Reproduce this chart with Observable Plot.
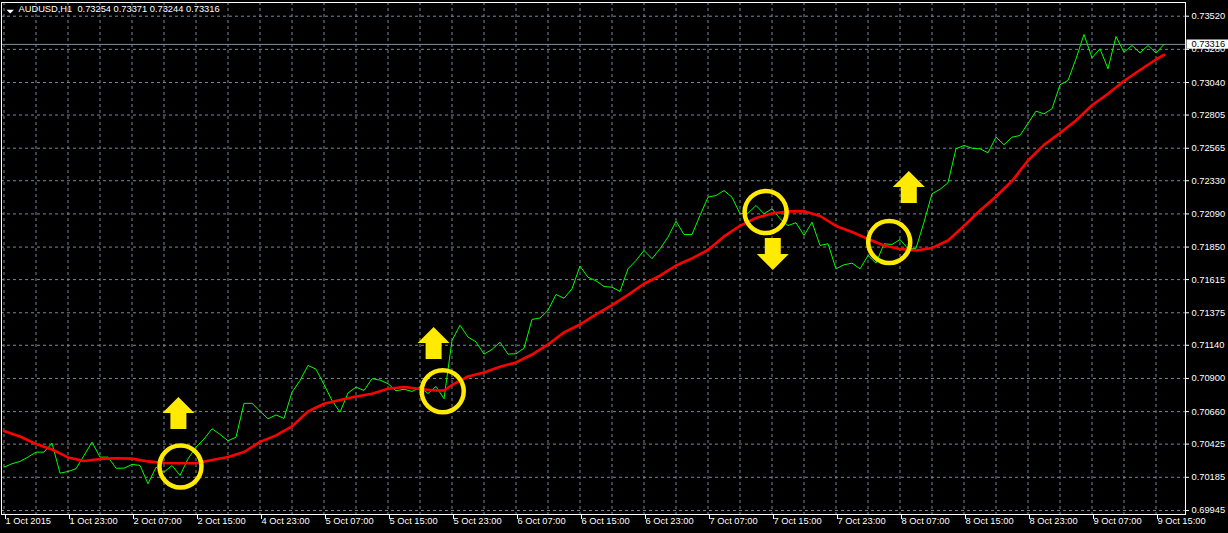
<!DOCTYPE html>
<html><head><meta charset="utf-8">
<script src="https://cdn.jsdelivr.net/npm/d3@7"></script>
<script src="https://cdn.jsdelivr.net/npm/@observablehq/plot@0.6"></script>
<style>
html,body{margin:0;padding:0;background:#000;}
#chart{width:1228px;height:533px;overflow:hidden}
svg{display:block}
</style></head><body><div id="chart"></div>
<script>
// ---- data ----
const symbolName = "AUDUSD,H1";
const ohlc = ["0.73254", "0.73371", "0.73244", "0.73316"];
const currentPrice = 0.73316;

// hourly closes (green line), bar 0 = 1 Oct 2015
const closes = [
  0.70258,0.70283,0.70300,0.70331,0.70367,0.70367,0.70432,0.70215,0.70227,0.70247,
  0.70343,0.70439,0.70331,0.70331,0.70251,0.70251,0.70278,0.70271,0.70138,0.70258,
  0.70222,0.70271,0.70198,0.70319,0.70403,0.70462,0.70536,0.70495,0.70449,0.70475,
  0.70720,0.70720,0.70663,0.70608,0.70636,0.70611,0.70801,0.70885,0.70994,0.70967,
  0.70856,0.70741,0.70656,0.70795,0.70837,0.70813,0.70898,0.70888,0.70862,0.70811,
  0.70822,0.70806,0.70837,0.70791,0.70842,0.70753,0.71175,0.71285,0.71199,0.71165,
  0.71076,0.71110,0.71162,0.71076,0.71079,0.71118,0.71327,0.71337,0.71392,0.71507,
  0.71480,0.71549,0.71713,0.71632,0.71606,0.71565,0.71560,0.71529,0.71693,0.71753,
  0.71826,0.71766,0.71838,0.71922,0.72037,0.71941,0.71941,0.72079,0.72211,0.72223,
  0.72259,0.72211,0.72091,0.72095,0.72151,0.72091,0.72127,0.72055,0.72006,0.72026,
  0.71934,0.72030,0.71862,0.71874,0.71693,0.71722,0.71734,0.71693,0.71789,0.71734,
  0.71874,0.71869,0.71905,0.71838,0.71841,0.72030,0.72236,0.72268,0.72315,0.72561,
  0.72585,0.72565,0.72561,0.72532,0.72645,0.72590,0.72645,0.72657,0.72746,0.72833,
  0.72814,0.72850,0.73024,0.73055,0.73212,0.73388,0.73219,0.73284,0.73140,0.73373,
  0.73260,0.73308,0.73255,0.73308,0.73254,0.73316
];

// moving average (red line)
const maIdx = [0,2,4,6,8,10,12,14,16,18,20,22,24,26,28,30,32,34,36,38,40,42,44,46,48,50,52,54,55,56,
  58,60,62,64,66,68,70,72,74,76,78,80,82,84,86,88,90,92,94,96,98,100,102,104,106,108,110,112,114,116,
  118,120,122,124,126,128,130,132,134,136,138,140,142,144,145];
const maVals = [0.70520,0.70480,0.70426,0.70386,0.70329,0.70303,0.70318,0.70323,0.70320,0.70300,
  0.70289,0.70287,0.70287,0.70310,0.70332,0.70368,0.70441,0.70488,0.70553,0.70661,
  0.70717,0.70744,0.70770,0.70789,0.70825,0.70838,0.70824,0.70813,0.70813,0.70853,
  0.70914,0.70943,0.70985,0.71016,0.71073,0.71146,0.71233,0.71290,0.71363,0.71431,
  0.71504,0.71585,0.71643,0.71717,0.71768,0.71829,0.71927,0.72004,0.72061,0.72093,
  0.72108,0.72110,0.72075,0.72003,0.71959,0.71909,0.71862,0.71836,0.71826,0.71844,
  0.71898,0.72003,0.72115,0.72216,0.72328,0.72476,0.72589,0.72675,0.72766,0.72876,
  0.72959,0.73051,0.73131,0.73207,0.73241];

const xTickIdx = [0,8,16,24,32,40,48,56,64,72,80,88,96,104,112,120,128,136,144];
const xTickLabels = ["1 Oct 2015","1 Oct 23:00","2 Oct 07:00","2 Oct 15:00","4 Oct 23:00",
  "5 Oct 07:00","5 Oct 15:00","5 Oct 23:00","6 Oct 07:00","6 Oct 15:00","6 Oct 23:00",
  "7 Oct 07:00","7 Oct 15:00","7 Oct 23:00","8 Oct 07:00","8 Oct 15:00","8 Oct 23:00",
  "9 Oct 07:00","9 Oct 15:00"];
const xGridIdx = [0,4,8,12,16,20,24,28,32,36,40,44,48,52,56,60,64,68,72,76,80,84,88,92,96,100,
  104,108,112,116,120,124,128,132,136,140,144];
const yTickVals = [0.69945,0.70185,0.70425,0.70660,0.70900,0.71140,0.71375,0.71615,0.71850,
  0.72090,0.72330,0.72565,0.72805,0.73040,0.73280,0.73520];
const yTickLabels = ["0.69945","0.70185","0.70425","0.70660","0.70900","0.71140","0.71375",
  "0.71615","0.71850","0.72090","0.72330","0.72565","0.72805","0.73040","0.73280","0.73520"];

// annotations (bar index, price)
const circleIdx = [22.06, 54.84, 95.2, 110.65];
const circlePrice = [0.70263, 0.70807, 0.72103, 0.71886];
const arrowIdx = [21.8, 53.7, 96.1, 113.1];
const arrowPrice = [0.70650, 0.71157, 0.71800, 0.72285];
const arrowDir = ["up", "up", "down", "up"];

// ---- build tables ----
const bars = closes.map((c, i) => ({i, c}));
const ma = maIdx.map((i, k) => ({i, v: maVals[k]}));
const circles = circleIdx.map((i, k) => ({i, p: circlePrice[k]}));
const arrows = arrowIdx.map((i, k) => ({i, p: arrowPrice[k], dir: arrowDir[k]}));

const upArrow = {draw(ctx) {
  ctx.moveTo(0, -16); ctx.lineTo(16, 0); ctx.lineTo(8, 0); ctx.lineTo(8, 16);
  ctx.lineTo(-8, 16); ctx.lineTo(-8, 0); ctx.lineTo(-16, 0); ctx.closePath();
}};
const downArrow = {draw(ctx) {
  ctx.moveTo(0, 16); ctx.lineTo(16, 0); ctx.lineTo(8, 0); ctx.lineTo(8, -16);
  ctx.lineTo(-8, -16); ctx.lineTo(-8, 0); ctx.lineTo(-16, 0); ctx.closePath();
}};
const priceBox = {draw(ctx) { ctx.rect(1, -5, 44, 9.4); }};
const menuTri = {draw(ctx) { ctx.moveTo(-3.7, -1.8); ctx.lineTo(3.7, -1.8); ctx.lineTo(0, 2); ctx.closePath(); }};

const grid = "#778899";
const yellow = "#ffea00";

const chart = Plot.plot({
  width: 1228, height: 533,
  marginLeft: 1, marginRight: 43, marginTop: 2, marginBottom: 19,
  style: {background: "#000", color: "#fff", fontFamily: "'Liberation Sans', Arial, sans-serif", fontSize: "9.3px"},
  x: {domain: [-0.3125, 147.6875], axis: null, label: null},
  y: {domain: [0.69916, 0.73619], axis: null, label: null},
  marks: [
    Plot.ruleY(yTickVals, {stroke: grid, strokeDasharray: "3,3"}),
    Plot.ruleX(xGridIdx, {stroke: grid, strokeDasharray: "3,3"}),
    Plot.ruleY([currentPrice], {stroke: "#8090a0"}),
    Plot.line(bars, {x: "i", y: "c", stroke: "#00ff00", strokeWidth: 1}),
    Plot.line(ma, {x: "i", y: "v", stroke: "#ff0000", strokeWidth: 2.6}),
    Plot.dot(circles, {x: "i", y: "p", r: 21, stroke: yellow, strokeWidth: 4.5, fill: "none"}),
    Plot.dot(arrows, {filter: d => d.dir === "up", x: "i", y: "p", symbol: upArrow, fill: yellow, stroke: "none"}),
    Plot.dot(arrows, {filter: d => d.dir === "down", x: "i", y: "p", symbol: downArrow, fill: yellow, stroke: "none"}),
    Plot.frame({stroke: "#fff"}),
    Plot.axisX(xTickIdx, {anchor: "bottom", label: null, tickFormat: d => xTickLabels[xTickIdx.indexOf(d)],
      textAnchor: "start", tickSize: 5, tickPadding: -2, dx: 1.5, stroke: "#fff", fill: "#fff"}),
    Plot.axisY(yTickVals, {anchor: "right", label: null, tickFormat: d => yTickLabels[yTickVals.indexOf(d)],
      tickSize: 3, tickPadding: 3, stroke: "#fff", fill: "#fff"}),
    Plot.dot([currentPrice], {y: d => d, frameAnchor: "right", symbol: priceBox, fill: "#fff", stroke: "none"}),
    Plot.text([currentPrice], {y: d => d, frameAnchor: "right", text: d => d.toFixed(5), dx: 6,
      textAnchor: "start", fill: "#000"}),
    Plot.text([`${symbolName}\u00a0\u00a0${ohlc.join(" ")}`], {frameAnchor: "top-left", dx: 17, dy: 3,
      lineAnchor: "top", textAnchor: "start", fill: "#fff"}),
    Plot.dot([0], {frameAnchor: "top-left", dx: 8.7, dy: 9, symbol: menuTri, fill: "#fff", stroke: "none"})
  ]
});
document.getElementById("chart").appendChild(chart);
</script></body></html>
